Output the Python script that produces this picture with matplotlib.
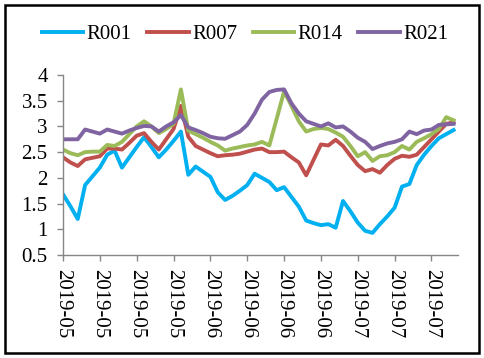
import numpy as np
import matplotlib
matplotlib.use("Agg")
import matplotlib.pyplot as plt
from matplotlib.patches import Rectangle

plt.rcParams['font.family'] = ['Liberation Serif', 'DejaVu Serif']

# values (one per trading day)
r001 = [1.68, 1.45, 1.2, 1.86, 2.03, 2.2, 2.45, 2.53, 2.2, 2.4,
        2.6, 2.79, 2.6, 2.4, 2.55, 2.72, 2.9, 2.06, 2.22, 2.12,
        2.02, 1.72, 1.57, 1.65, 1.75, 1.86, 2.08, 2.0, 1.92, 1.76,
        1.82, 1.63, 1.44, 1.17, 1.12, 1.08, 1.1, 1.03, 1.55, 1.35,
        1.13, 0.97, 0.93, 1.1, 1.25, 1.42, 1.83, 1.88, 2.25, 2.45,
        2.62, 2.77, 2.85, 2.93]
r007 = [2.4, 2.3, 2.23, 2.36, 2.39, 2.42, 2.57, 2.57, 2.55, 2.68,
        2.82, 2.87, 2.7, 2.55, 2.75, 2.95, 3.4, 2.8, 2.62, 2.55,
        2.48, 2.42, 2.44, 2.45, 2.47, 2.51, 2.55, 2.57, 2.5, 2.5,
        2.51, 2.4, 2.3, 2.05, 2.35, 2.65, 2.63, 2.74, 2.62, 2.43,
        2.25, 2.13, 2.17, 2.1, 2.25, 2.37, 2.43, 2.41, 2.45, 2.6,
        2.75, 2.9, 3.05, 3.08]
r014 = [2.55, 2.48, 2.44, 2.5, 2.51, 2.51, 2.64, 2.62, 2.7, 2.85,
        3.0, 3.1, 3.0, 2.87, 2.95, 3.05, 3.72, 2.92, 2.85, 2.78,
        2.7, 2.63, 2.53, 2.57, 2.6, 2.63, 2.65, 2.7, 2.63, 3.15,
        3.68, 3.4, 3.1, 2.9, 2.95, 2.97, 2.95, 2.88, 2.8, 2.62,
        2.42, 2.5, 2.33, 2.42, 2.44, 2.5, 2.62, 2.55, 2.7, 2.77,
        2.85, 2.95, 3.18, 3.12]
r021 = [2.75, 2.75, 2.75, 2.94, 2.9, 2.86, 2.94, 2.9, 2.86, 2.92,
        2.97, 3.01, 3.0, 2.9, 3.0, 3.08, 3.22, 2.98, 2.93, 2.87,
        2.8, 2.77, 2.76, 2.83, 2.9, 3.03, 3.25, 3.52, 3.67, 3.71,
        3.72, 3.45, 3.25, 3.1, 3.05, 3.0, 3.06, 2.98, 3.0, 2.9,
        2.78, 2.7, 2.56, 2.62, 2.67, 2.7, 2.75, 2.9, 2.85, 2.92,
        2.94, 3.03, 3.04, 3.05]
names = ['R001', 'R007', 'R014', 'R021']
colors = ['#00B0F0', '#C0504D', '#9BBB59', '#8064A2']
tick_labels = ['2019-05'] * 4 + ['2019-06'] * 4 + ['2019-07'] * 3

fig = plt.figure(figsize=(4.85, 3.58), dpi=100)
ax = fig.add_axes([63 / 485, 103 / 358, 395 / 485, 180 / 358])

x = np.arange(len(r001))
for y, name, c in zip([r001, r007, r014, r021], names, colors):
    ax.plot(x, y, color=c, lw=2.8, label=name, solid_joinstyle='round')

ax.set_xlim(0, 53.6)
ax.set_ylim(0.5, 4)
ax.set_yticks(np.arange(0.5, 4.01, 0.5))
ax.set_yticklabels(['0.5', '1', '1.5', '2', '2.5', '3', '3.5', '4'])
ax.set_xticks(np.arange(0, 51, 5))
ax.set_xticklabels(tick_labels, rotation=270, ha='center', va='top')

for s in ['top', 'right']:
    ax.spines[s].set_visible(False)
for s in ['left', 'bottom']:
    ax.spines[s].set_color('#868686')
    ax.spines[s].set_linewidth(1.0)
ax.tick_params(axis='both', colors='#868686', labelcolor='black',
               labelsize=15, length=4, width=1.0)
ax.tick_params(axis='y', pad=7)
ax.tick_params(axis='x', pad=6)

fig.legend(loc='center', bbox_to_anchor=(0.505, 1 - 34 / 358), ncol=4,
           frameon=False, fontsize=15, handlelength=2.0,
           handletextpad=0.15, columnspacing=0.75)

fig.patches.append(Rectangle((5 / 485, 5 / 358), 474 / 485, 348 / 358,
                             transform=fig.transFigure, fill=False,
                             edgecolor='black', lw=1.8))

fig.savefig('out.png', dpi=100)
